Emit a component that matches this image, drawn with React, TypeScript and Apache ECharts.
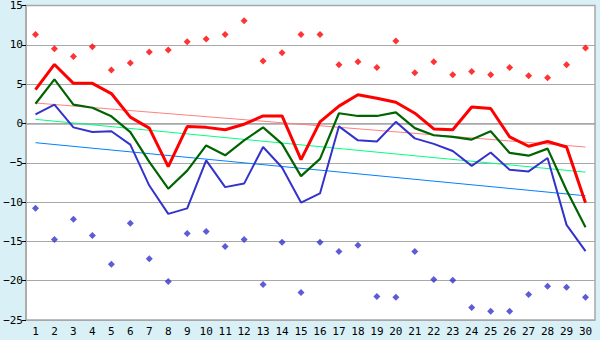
import React, { useEffect, useRef } from "react";
import * as echarts from "echarts";

const days = Array.from({ length: 30 }, (_, i) => String(i + 1));

const maxTemp = [4.3, 7.5, 5.1, 5.1, 3.8, 0.8, -0.6, -5.5, -0.4, -0.5, -0.8, -0.1, 0.95, 0.95, -4.6, 0.2, 2.2, 3.65, 3.2, 2.7, 1.3, -0.7, -0.8, 2.1, 1.9, -1.7, -2.9, -2.3, -3.0, -10.1];
const meanTemp = [2.5, 5.6, 2.4, 2.0, 0.9, -1.1, -4.9, -8.3, -6.0, -2.8, -4.05, -2.15, -0.5, -2.6, -6.7, -4.5, 1.3, 0.95, 0.95, 1.4, -0.6, -1.5, -1.7, -2.05, -1.0, -3.75, -4.1, -3.2, -8.5, -13.2];
const minTemp = [1.15, 2.4, -0.5, -1.1, -1.0, -2.7, -7.9, -11.5, -10.8, -4.7, -8.1, -7.65, -3.0, -5.6, -10.06, -8.9, -0.37, -2.15, -2.3, 0.2, -1.9, -2.6, -3.5, -5.4, -3.7, -5.9, -6.1, -4.4, -12.9, -16.25];
const recordHigh = [11.3, 9.5, 8.5, 9.75, 6.8, 7.7, 9.1, 9.35, 10.4, 10.75, 11.3, 13.05, 7.95, 9.0, 11.3, 11.3, 7.45, 7.85, 7.1, 10.5, 6.45, 7.85, 6.2, 6.6, 6.2, 7.1, 6.07, 5.8, 7.45, 9.6];
const recordLow = [-10.8, -14.75, -12.2, -14.25, -17.9, -12.7, -17.2, -20.1, -14.0, -13.75, -15.65, -14.75, -20.5, -15.1, -21.5, -15.1, -16.3, -15.5, -22.0, -22.1, -16.3, -19.85, -19.95, -23.4, -23.9, -23.9, -21.75, -20.7, -20.85, -22.1];
const trendMax = [2.6, -3.0];
const trendMean = [0.52, -6.2];
const trendMin = [-2.45, -9.2];

const yTicks = { min: -25, max: 15, interval: 5 };

function trendData(t: number[]) {
  return [
    [days[0], t[0]],
    [days[days.length - 1], t[1]],
  ];
}

export default function App() {
  const ref = useRef<HTMLDivElement>(null);
  useEffect(() => {
    if (!ref.current) return;
    const chart = echarts.init(ref.current, null, { renderer: "svg" });
    const font = "DejaVu Sans Mono";
    chart.setOption({
      animation: false,
      backgroundColor: "#D9F0F7",
      grid: {
        left: 26,
        right: 5,
        top: 5,
        bottom: 20,
        show: true,
        backgroundColor: "#FFFFFF",
        borderColor: "#A8A8A8",
        borderWidth: 1.5,
      },
      xAxis: {
        type: "category",
        data: days,
        boundaryGap: true,
        axisLine: { lineStyle: { color: "#A8A8A8", width: 1.5 } },
        axisTick: { alignWithLabel: true, length: 5, lineStyle: { color: "#000000" } },
        axisLabel: { color: "#000000", fontFamily: font, fontSize: 11, margin: 6, interval: 0 },
        splitLine: { show: false },
      },
      yAxis: {
        type: "value",
        min: yTicks.min,
        max: yTicks.max,
        interval: yTicks.interval,
        axisLine: { show: true, lineStyle: { color: "#A8A8A8", width: 1.5 } },
        axisTick: { show: true, length: 4, lineStyle: { color: "#000000" } },
        axisLabel: {
          color: "#000000",
          fontFamily: font,
          fontSize: 11,
          margin: 3,
          formatter: (v: number) => (v < 0 ? "\u2212" + Math.abs(v) : String(v)),
        },
        splitLine: { show: true, lineStyle: { color: "#A8A8A8", width: 1 } },
      },
      series: [
        {
          type: "line",
          data: trendData(trendMax),
          symbol: "none",
          lineStyle: { color: "#FF8080", width: 1 },
          z: 2,
        },
        {
          type: "line",
          data: trendData(trendMean),
          symbol: "none",
          lineStyle: { color: "#00FF80", width: 1 },
          z: 2,
        },
        {
          type: "line",
          data: trendData(trendMin),
          symbol: "none",
          lineStyle: { color: "#0080FF", width: 1 },
          z: 2,
        },
        {
          type: "line",
          data: minTemp,
          symbol: "none",
          lineStyle: { color: "#3333CC", width: 2 },
          z: 3,
        },
        {
          type: "line",
          data: meanTemp,
          symbol: "none",
          lineStyle: { color: "#006400", width: 2.2 },
          z: 4,
        },
        {
          type: "line",
          data: maxTemp,
          symbol: "none",
          lineStyle: { color: "#FF0000", width: 3 },
          z: 5,
        },
        {
          type: "scatter",
          data: recordHigh,
          symbol: "diamond",
          symbolSize: 7,
          itemStyle: { color: "#FF0000" },
          z: 6,
        },
        {
          type: "scatter",
          data: recordLow,
          symbol: "diamond",
          symbolSize: 7,
          itemStyle: { color: "#3333CC" },
          z: 6,
        },
      ],
    });
    return () => chart.dispose();
  }, []);
  return <div ref={ref} style={{ width: 600, height: 340, position: "absolute", left: 0, top: 0 }} />;
}
